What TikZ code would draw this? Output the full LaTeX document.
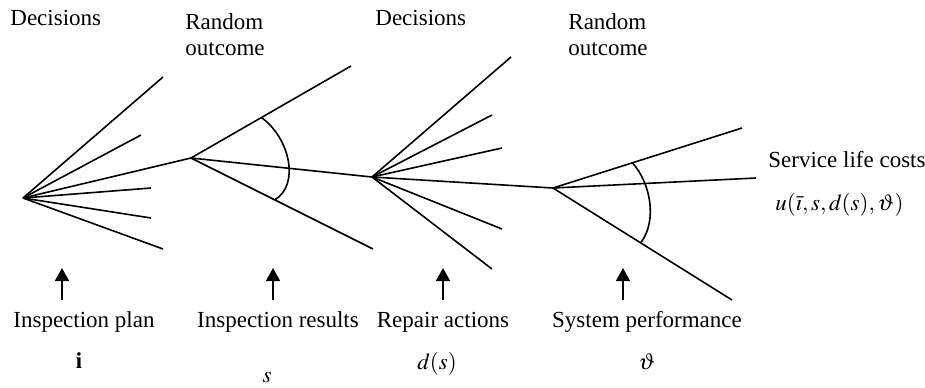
\documentclass[tikz,border=0pt]{standalone}
\usepackage{mathptmx}
\usepackage{fontspec}
\setmainfont{Liberation Serif}
\usetikzlibrary{arrows.meta, calc}

\begin{document}
\begin{tikzpicture}[
  x=0.5pt, y=-0.5pt,
  branch/.style={draw, line width=0.8pt},
  arr/.style={draw, line width=0.8pt, -{Triangle[length=6.5pt, width=7pt]}},
  lbl/.style={inner sep=0pt, font=\fontsize{11.5}{13}\selectfont}
  ]
  \useasboundingbox (0,0) rectangle (925,387);
  % decision and chance nodes
  \coordinate (D1) at ( 23,198);
  \coordinate (C1) at (191,158);
  \coordinate (D2) at (372,177);
  \coordinate (C2) at (553,188);
  % branch ends
  \coordinate (d1a) at (163, 77);
  \coordinate (d1b) at (141,135);
  \coordinate (d1c) at (151,188);
  \coordinate (d1d) at (151,218);
  \coordinate (d1e) at (163,249);
  \coordinate (c1a) at (351, 66);
  \coordinate (c1b) at (373,249);
  \coordinate (d2a) at (511, 57);
  \coordinate (d2b) at (492,115);
  \coordinate (d2c) at (502,148);
  \coordinate (d2d) at (502,229);
  \coordinate (d2e) at (492,269);
  \coordinate (c2a) at (742,128);
  \coordinate (c2b) at (756,178);
  \coordinate (c2c) at (732,300);
  % first decision
  \draw[branch] (D1) -- (d1a);
  \draw[branch] (D1) -- (d1b);
  \draw[branch] (D1) -- (C1);
  \draw[branch] (D1) -- (d1c);
  \draw[branch] (D1) -- (d1d);
  \draw[branch] (D1) -- (d1e);
  % first random outcome
  \draw[branch] (C1) -- (c1a);
  \draw[branch] (C1) -- (D2);
  \draw[branch] (C1) -- (c1b);
  \draw[branch] ($(C1)!0.44!(c1a)$) .. controls (290,138) and (300,185) .. ($(C1)!0.46!(c1b)$);
  % second decision
  \draw[branch] (D2) -- (d2a);
  \draw[branch] (D2) -- (d2b);
  \draw[branch] (D2) -- (d2c);
  \draw[branch] (D2) -- (C2);
  \draw[branch] (D2) -- (d2d);
  \draw[branch] (D2) -- (d2e);
  % second random outcome
  \draw[branch] (C2) -- (c2a);
  \draw[branch] (C2) -- (c2b);
  \draw[branch] (C2) -- (c2c);
  \draw[branch] ($(C2)!0.42!(c2a)$) .. controls (650,182) and (658,220) .. ($(C2)!0.49!(c2c)$);
  % headings
  \node[lbl, anchor=base west] (h1) at ( 10,25) {Decisions};
  \node[lbl, anchor=base west, align=left] (h2) at (185,55) {Random\\outcome};
  \node[lbl, anchor=base west] (h3) at (375,25) {Decisions};
  \node[lbl, anchor=base west, align=left] (h4) at (568,55) {Random\\outcome};
  \node[lbl, anchor=base west] (cost) at (768,167) {Service life costs};
  \node[lbl, anchor=base west] (util) at (775,210) {$u(\bar{\imath},s,d(s),\vartheta)$};
  % arrows
  \coordinate (a1) at ( 62,300); \coordinate (t1) at ( 62,268);
  \coordinate (a2) at (273,300); \coordinate (t2) at (273,268);
  \coordinate (a3) at (443,300); \coordinate (t3) at (443,268);
  \coordinate (a4) at (623,300); \coordinate (t4) at (623,268);
  \draw[arr] (a1) -- (t1);
  \draw[arr] (a2) -- (t2);
  \draw[arr] (a3) -- (t3);
  \draw[arr] (a4) -- (t4);
  % stage labels
  \node[lbl, anchor=base] (plan) at ( 84,327) {Inspection plan};
  \node[lbl, anchor=base] (res)  at (278,327) {Inspection results};
  \node[lbl, anchor=base] (rep)  at (443,327) {Repair actions};
  \node[lbl, anchor=base] (perf) at (647,327) {System performance};
  \node[lbl, anchor=base] (vi)  at ( 79,368) {$\mathbf{i}$};
  \node[lbl, anchor=base] (vs)  at (267,382) {$s$};
  \node[lbl, anchor=base] (vd)  at (437,369) {$d(s)$};
  \node[lbl, anchor=base] (vt)  at (647,369) {$\vartheta$};
\end{tikzpicture}
\end{document}
